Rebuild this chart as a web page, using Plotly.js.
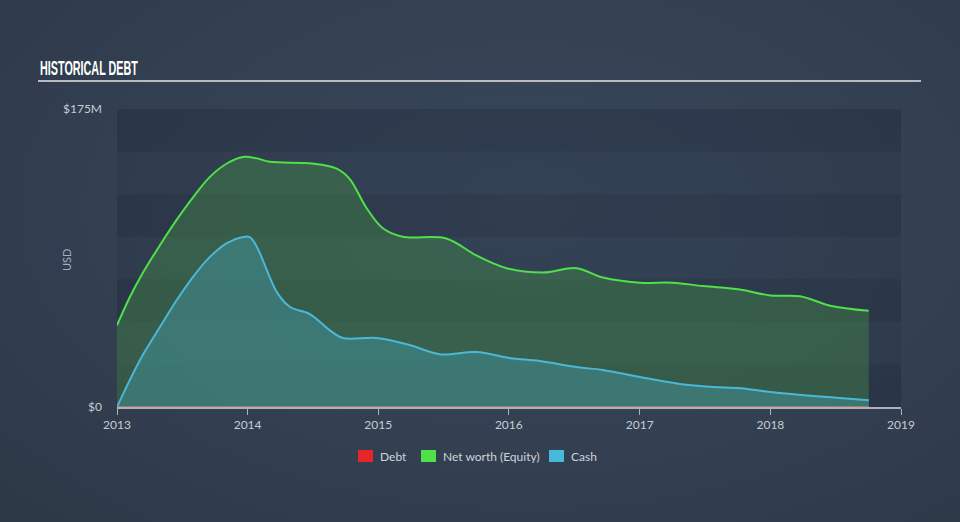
<!DOCTYPE html>
<html>
<head>
<meta charset="utf-8">
<script src="https://cdn.plot.ly/plotly-3.0.1.min.js"></script>
<style>
html,body{margin:0;padding:0;}
body{width:960px;height:522px;background:radial-gradient(ellipse at 55% 40%, #38475a 0%, #334052 55%, #2d3846 100%);}
#chart{width:960px;height:522px;}
</style>
</head>
<body>
<div id="chart"></div>
<script>
// Net worth (Equity), $M
const equityDates = ['2013-01-01','2013-02-06','2013-03-14','2013-05-01','2013-06-17','2013-08-01','2013-09-17','2013-11-04','2013-12-19','2014-01-27','2014-03-04','2014-07-01','2014-09-07','2014-10-13','2014-11-29','2015-01-14','2015-03-10','2015-07-10','2015-10-02','2015-12-26','2016-04-05','2016-07-08','2016-09-20','2017-01-01','2017-04-04','2017-06-27','2017-10-08','2018-01-01','2018-03-25','2018-06-17','2018-10-03'];
const equityValues = [48, 64.6, 78.7, 95, 110, 123, 135, 143, 146.8, 146, 144, 143, 140, 134, 117, 105, 100, 99, 89, 81.5, 79, 81.5, 76, 73, 73, 71, 69, 65.5, 65, 59.5, 56.5];

// Cash, $M
const cashDates = ['2013-01-01','2013-02-06','2013-03-14','2013-05-01','2013-06-17','2013-08-01','2013-09-17','2013-11-04','2013-12-19','2014-01-07','2014-01-27','2014-02-13','2014-03-25','2014-04-30','2014-06-24','2014-08-19','2014-09-24','2014-12-28','2015-03-30','2015-06-22','2015-10-02','2016-01-03','2016-03-27','2016-07-08','2016-09-20','2017-01-01','2017-04-23','2017-07-24','2017-10-08','2018-01-28','2018-04-30','2018-07-13','2018-10-03'];
const cashValues = [0, 15.9, 30.5, 47, 62.8, 76.3, 88, 96.3, 99.8, 99.8, 94, 86, 67, 58.7, 54.6, 45, 40.5, 40.5, 36.4, 31, 32.3, 28.8, 27, 23.5, 21.7, 17.6, 13.5, 11.7, 11, 8.2, 6.5, 5.3, 4];

// Debt, $M
const debtDates = ['2013-01-01','2018-10-03'];
const debtValues = [0, 0];

const yTickVals = [0, 175];
const yTickText = ['$0', '$175M'];
const xTickVals = ['2013-01-01','2014-01-01','2015-01-01','2016-01-01','2017-01-01','2018-01-01','2019-01-01'];
const xTickText = ['2013','2014','2015','2016','2017','2018','2019'];

const seriesNames = ['Debt', 'Net worth (Equity)', 'Cash'];
const seriesColors = ['#e8262a', '#4fe04a', '#4ab8d8'];

const traces = [
  {x: equityDates, y: equityValues, type: 'scatter', mode: 'lines', line: {color: '#4fe04a', width: 2, shape: 'spline', smoothing: 1},
   fill: 'tozeroy', fillcolor: 'rgba(70,150,70,0.38)', showlegend: false, hoverinfo: 'skip'},
  {x: cashDates, y: cashValues, type: 'scatter', mode: 'lines', line: {color: '#4ab8d8', width: 2, shape: 'spline', smoothing: 1},
   fill: 'tozeroy', fillcolor: 'rgba(65,142,150,0.55)', showlegend: false, hoverinfo: 'skip'},
  {x: debtDates, y: debtValues, type: 'scatter', mode: 'lines', line: {color: '#d9735e', width: 1.5},
   showlegend: false, hoverinfo: 'skip'}
];

// plot area in pixels (for paper-coordinate conversions of decorations)
const PL = 117, PR = 901, PT = 109, PB = 407;
const px = v => (v - PL) / (PR - PL);
const py = v => (PB - v) / (PB - PT);

const shapes = [
  {type: 'rect', xref: 'paper', yref: 'paper', x0: 0, x1: 1, y0: 0, y1: 1, fillcolor: 'rgba(20,30,45,0.10)', line: {width: 0}, layer: 'below'},
  {type: 'line', xref: 'paper', yref: 'paper', x0: px(38), x1: px(921), y0: py(81), y1: py(81), line: {color: '#b8bcc2', width: 2}}
];
for (let k = 0; k < 7; k += 2) {
  shapes.push({type: 'rect', xref: 'paper', yref: 'y', x0: 0, x1: 1, y0: k * 25, y1: (k + 1) * 25,
    fillcolor: 'rgba(20,28,40,0.12)', line: {width: 0}, layer: 'below'});
}

const annotations = [
  {xref: 'paper', yref: 'paper', x: px(38), y: py(67), xanchor: 'left', yanchor: 'middle', showarrow: false,
   text: '<b>HISTORICAL DEBT</b>', font: {family: '"Liberation Sans", Arial, sans-serif', size: 21, color: '#ffffff'}},
  {xref: 'paper', yref: 'paper', x: px(66), y: py(260), xanchor: 'center', yanchor: 'middle', showarrow: false, textangle: -90,
   text: 'USD', font: {family: 'Lato, sans-serif', size: 11, color: '#a8b0ba'}}
];

// legend (manual, to match swatch size and spacing)
const legendSwatchX = [358, 421, 549];
const legendY = 456;
seriesNames.forEach((n, i) => {
  const x0 = legendSwatchX[i];
  shapes.push({type: 'rect', xref: 'paper', yref: 'paper', x0: px(x0), x1: px(x0 + 15), y0: py(legendY + 6), y1: py(legendY - 6),
    fillcolor: seriesColors[i], line: {width: 0}});
  annotations.push({xref: 'paper', yref: 'paper', x: px(x0 + 20), y: py(legendY), xanchor: 'left', yanchor: 'middle', showarrow: false,
    text: n, font: {family: 'Lato, sans-serif', size: 12, color: '#d0d4d8'}});
});

const layout = {
  width: 960, height: 522,
  margin: {l: PL, r: 960 - PR, t: PT, b: 522 - PB},
  paper_bgcolor: 'rgba(0,0,0,0)',
  plot_bgcolor: 'rgba(0,0,0,0)',
  font: {family: 'Lato, sans-serif', color: '#c8ccd2', size: 12},
  showlegend: false,
  xaxis: {type: 'date', range: ['2013-01-01', '2019-01-01'], tickvals: xTickVals, ticktext: xTickText,
    showgrid: false, zeroline: false, showline: true, linecolor: '#aab2bd', linewidth: 1.5,
    ticks: 'outside', ticklen: 6, tickcolor: '#aab2bd', tickfont: {size: 12, color: '#c8ccd2'}, fixedrange: true},
  yaxis: {range: [0, 175], tickvals: yTickVals, ticktext: yTickText, showgrid: false, zeroline: false, showline: false,
    ticks: '', ticklabelstandoff: 14, tickfont: {size: 12, color: '#c8ccd2'}, fixedrange: true},
  shapes: shapes,
  annotations: annotations
};

Plotly.newPlot('chart', traces, layout, {displayModeBar: false, staticPlot: true}).then(() => {
  // condense the title horizontally to mimic the narrow display face
  const texts = document.querySelectorAll('.annotation-text');
  texts.forEach(t => {
    if (t.textContent === 'HISTORICAL DEBT') {
      const bb = t.getBBox();
      const target = 98;
      const s = target / bb.width;
      const x0 = bb.x;
      t.setAttribute('transform', 'translate(' + x0 + ',0) scale(' + s + ',1) translate(' + (-x0) + ',0)');
    }
  });
});
</script>
</body>
</html>
